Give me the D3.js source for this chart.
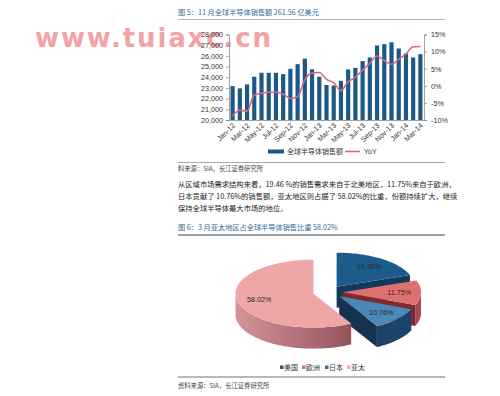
<!DOCTYPE html>
<html><head><meta charset="utf-8">
<script src="https://cdn.jsdelivr.net/npm/d3@7"></script>
<style>html,body{margin:0;padding:0;background:#fff;} svg{display:block;}</style>
</head><body>
<svg id="c" width="500" height="396"></svg>
<script>
// ---------- data ----------
const months = ["Jan-12","Feb-12","Mar-12","Apr-12","May-12","Jun-12","Jul-12","Aug-12","Sep-12","Oct-12","Nov-12","Dec-12",
  "Jan-13","Feb-13","Mar-13","Apr-13","May-13","Jun-13","Jul-13","Aug-13","Sep-13","Oct-13","Nov-13","Dec-13",
  "Jan-14","Feb-14","Mar-14"];
const sales = [23170,22960,23330,24050,24420,24420,24420,24290,24790,25220,25740,24740,
  24050,23270,23230,23670,24730,24880,25510,25850,26970,27090,27270,26690,
  26220,25850,26160];
const yoy = [-8.8,-7.1,-7.4,-2.7,-2.2,-1.9,-1.9,-2.5,-3.7,-3.2,1.8,3.7,
  3.9,1.9,0.9,-1.4,1.2,2.5,4.6,6.6,8.7,7.4,6.3,7.8,
  9.3,11.4,11.5];
const leftTicks = [20000,21000,22000,23000,24000,25000,26000,27000,28000];
const rightTicks = [-10,-5,0,5,10,15];
const xTickLabels = ["Jan-12","Mar-12","May-12","Jul-12","Sep-12","Nov-12","Jan-13","Mar-13","May-13","Jul-13","Sep-13","Nov-13","Jan-14","Mar-14"];
const barLegend = "全球半导体销售额";
const lineLegend = "YoY";

const pieNames = ["美国","欧洲","日本","亚太"];
const pieValues = [19.46, 11.75, 10.76, 58.02];
const pieLabels = ["19.46%","11.75%","10.76%","58.02%"];

const title5 = "图 5：11 月全球半导体销售额 261.56 亿美元";
const title6 = "图 6：3 月亚太地区占全球半导体销售比重 58.02%";
const source1 = "料来源：SIA，长江证券研究所";
const source2 = "资料来源：SIA，长江证券研究所";
const paragraph = [
  "从区域市场需求结构来看，19.46 %的销售需求来自于北美地区，11.75%来自于欧洲，",
  "日本贡献了 10.76%的销售额，亚太地区则占据了 58.02%的比重，份额持续扩大，继续",
  "保持全球半导体最大市场的地位。"
];
const watermark = "www.tuiaxc.cn";

// ---------- drawing ----------
const svg = d3.select("#c");
const FONT = "'Liberation Sans','Noto Sans CJK SC',sans-serif";
const CJK = "'Noto Sans CJK SC','Liberation Sans',sans-serif";
const blue = "#2d6a98";

// watermark (behind)
svg.append("text").attr("x",35).attr("y",47)
  .attr("font-family","'DejaVu Sans',sans-serif").attr("font-weight","bold")
  .attr("font-size",26).attr("fill","#f3a3a3")
  .attr("textLength",236).attr("lengthAdjust","spacing")
  .text(watermark);

// titles, rules, texts
svg.append("text").attr("x",178).attr("y",14.5).attr("font-family",CJK).attr("font-size",7.2)
  .attr("fill",blue).text(title5);
svg.append("line").attr("x1",178).attr("x2",445).attr("y1",19.5).attr("y2",19.5)
  .attr("stroke","#b5b5b5").attr("stroke-width",1.2);

// ---------- combo chart ----------
const x = d3.scaleBand().domain(months).range([229,424]).paddingInner(0.42).paddingOuter(0.21);
const yL = d3.scaleLinear().domain([20000,28000]).range([120,34.5]);
const yR = d3.scaleLinear().domain([-10,15]).range([120,34.5]);

const g = svg.append("g");
g.selectAll("rect.bar").data(sales).join("rect").attr("class","bar")
  .attr("x",(d,i)=>x(months[i])).attr("width",x.bandwidth())
  .attr("y",d=>yL(d)).attr("height",d=>yL(20000)-yL(d))
  .attr("fill","#1d5886");

const line = d3.line().x((d,i)=>x(months[i])+x.bandwidth()/2).y(d=>yR(d)).curve(d3.curveMonotoneX);
g.append("path").datum(yoy).attr("d",line).attr("fill","none")
  .attr("stroke","#d56b7a").attr("stroke-width",1.6);

const axL = g.append("g").attr("transform","translate(229,0)")
  .call(d3.axisLeft(yL).tickValues(leftTicks).tickFormat(d3.format(",")).tickSize(3).tickPadding(3));
const axR = g.append("g").attr("transform","translate(424,0)")
  .call(d3.axisRight(yR).tickValues(rightTicks).tickFormat(d=>d+"%").tickSize(3).tickPadding(4));
const axB = g.append("g").attr("transform","translate(0,120)")
  .call(d3.axisBottom(x).tickValues(xTickLabels).tickSize(0).tickPadding(0).tickSizeOuter(0));
[axL,axR,axB].forEach(a=>{
  a.selectAll("path,line").attr("stroke","#8a8a8a").attr("stroke-width",0.8);
  a.selectAll("text").attr("font-family",FONT).attr("font-size",7.2).attr("fill","#333");
});
axB.selectAll("text").attr("text-anchor","end").attr("dy",null).attr("y",0)
  .attr("transform","translate(3,6) rotate(-45)");

// legend of combo chart
svg.append("rect").attr("x",268).attr("y",149.5).attr("width",16).attr("height",4).attr("fill","#1d5886");
svg.append("text").attr("x",287).attr("y",154).attr("font-family",CJK).attr("font-size",7)
  .attr("fill","#333").text(barLegend);
svg.append("line").attr("x1",345).attr("x2",360).attr("y1",151.5).attr("y2",151.5)
  .attr("stroke","#d56b7a").attr("stroke-width",1.6);
svg.append("text").attr("x",364).attr("y",154).attr("font-family",FONT).attr("font-size",7)
  .attr("fill","#333").text(lineLegend);

svg.append("line").attr("x1",178).attr("x2",445).attr("y1",162.5).attr("y2",162.5)
  .attr("stroke","#a8a8a8").attr("stroke-width",1);
svg.append("text").attr("x",178).attr("y",171).attr("font-family",CJK).attr("font-size",6.3)
  .attr("fill","#444").text(source1);

paragraph.forEach((t,i)=>{
  svg.append("text").attr("x",178).attr("y",186.5+i*12).attr("font-family",CJK).attr("font-size",7.3)
    .attr("fill","#222").text(t);
});

svg.append("text").attr("x",178).attr("y",230).attr("font-family",CJK).attr("font-size",7.2)
  .attr("fill",blue).text(title6);
svg.append("line").attr("x1",178).attr("x2",445).attr("y1",235).attr("y2",235)
  .attr("stroke","#a0a0a0").attr("stroke-width",2);

// ---------- 3D pie ----------
const cx=328, cy=292, rx=78, ry=34, ex=15, depth=21, k=ry/rx;
const topCol = ["#1d5b8a","#df7070","#4b87b7","#eea6a6"];
const endCol = ["#143a5b","#7e2a30","#16324f","#9e5a62"];
const outCol = ["#16426a","#a9484f","#1d4468","url(#pinkSide)"];

const defs = svg.append("defs");
const grad = defs.append("linearGradient").attr("id","pinkSide").attr("x1","0").attr("x2","1").attr("y1","0").attr("y2","0");
grad.append("stop").attr("offset","0%").attr("stop-color","#d39499");
grad.append("stop").attr("offset","100%").attr("stop-color","#96535c");

const arcs = d3.pie().sort(null)(pieValues);
const pg = svg.append("g");
const pl = d3.line();
arcs.forEach((a,i)=>{
  const m=(a.startAngle+a.endAngle)/2;
  const ax = cx + ex*Math.sin(m), ay = cy - ex*Math.cos(m)*k;
  const rim = (t,dz=0)=>[ax+rx*Math.sin(t), ay-ry*Math.cos(t)+dz];
  const samples = (t0,t1)=>{const n=Math.max(2,Math.ceil((t1-t0)/0.03));return d3.range(n+1).map(j=>t0+(t1-t0)*j/n);};
  const wall = t=>pl([[ax,ay],rim(t),rim(t,depth),[ax,ay+depth]])+"Z";
  if (Math.sin(a.startAngle) < -1e-3) pg.append("path").attr("d",wall(a.startAngle)).attr("fill",endCol[i]);
  if (Math.sin(a.endAngle) > 1e-3) pg.append("path").attr("d",wall(a.endAngle)).attr("fill",endCol[i]);
  const b0=Math.max(a.startAngle,Math.PI/2), b1=Math.min(a.endAngle,3*Math.PI/2);
  if (b1>b0){
    const s=samples(b0,b1);
    const pts=s.map(t=>rim(t)).concat(s.slice().reverse().map(t=>rim(t,depth)));
    pg.append("path").attr("d",pl(pts)+"Z").attr("fill",outCol[i]);
  }
  const pts=[[ax,ay]].concat(samples(a.startAngle,a.endAngle).map(t=>rim(t)));
  pg.append("path").attr("d",pl(pts)+"Z").attr("fill",topCol[i]);
  pg.append("text").attr("x",ax+rx*0.72*Math.sin(m)).attr("y",ay-ry*0.72*Math.cos(m)+2.5)
    .attr("text-anchor","middle").attr("font-family",FONT).attr("font-size",7.2).attr("fill","#2a2a2a")
    .text(pieLabels[i]);
});

// pie legend
const legX=[280,302,325,347];
const legCol=["#1d5b8a","#d9747c","#2d6f9e","#f0a9a9"];
pieNames.forEach((n,i)=>{
  svg.append("rect").attr("x",legX[i]).attr("y",365.5).attr("width",3.5).attr("height",3.5).attr("fill",legCol[i]);
  svg.append("text").attr("x",legX[i]+4).attr("y",370).attr("font-family",CJK).attr("font-size",7)
    .attr("fill","#333").text(n);
});
svg.append("line").attr("x1",178).attr("x2",445).attr("y1",377).attr("y2",377)
  .attr("stroke","#a0a0a0").attr("stroke-width",1.3);
svg.append("text").attr("x",178).attr("y",387.5).attr("font-family",CJK).attr("font-size",6.3)
  .attr("fill","#444").text(source2);
</script>
</body></html>
